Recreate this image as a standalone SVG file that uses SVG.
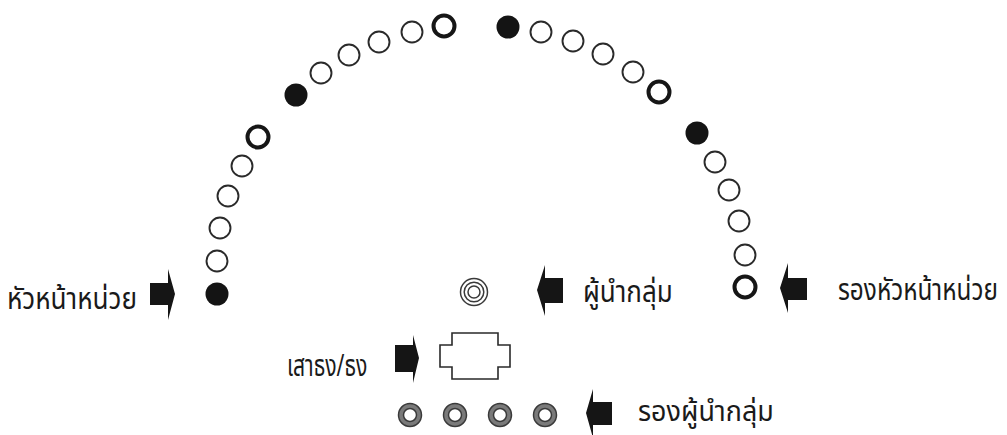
<svg xmlns="http://www.w3.org/2000/svg" width="1007" height="435" viewBox="0 0 1007 435">
<style>
.o{fill:none;stroke:#2a2a2a;stroke-width:1.9}
.t{fill:none;stroke:#161616;stroke-width:4}
.f{fill:#141414}
.r{fill:none;stroke:#3a3a3a;stroke-width:1.5}
.g{fill:none;stroke:#7a7a7a;stroke-width:4.5}
.arw{fill:#151515}
.lbl{font-family:"Noto Sans Thai","Noto Sans","DejaVu Sans",sans-serif;font-size:30px;fill:#1a1a1a}
.sm{font-size:28px}
.flag{fill:none;stroke:#2a2a2a;stroke-width:1.6}
</style>
<rect width="1007" height="435" fill="#fff"/>
<g id="arc">
<circle class="f" cx="217" cy="294" r="11.5"/>
<circle class="o" cx="217" cy="261" r="10.5"/>
<circle class="o" cx="220" cy="228" r="10.5"/>
<circle class="o" cx="228" cy="196" r="10.5"/>
<circle class="o" cx="242" cy="166" r="10.5"/>
<circle class="t" cx="258" cy="137" r="10.5"/>
<circle class="f" cx="296" cy="95" r="11.5"/>
<circle class="o" cx="321" cy="73" r="10.5"/>
<circle class="o" cx="349" cy="55" r="10.5"/>
<circle class="o" cx="379" cy="42" r="10.5"/>
<circle class="o" cx="412" cy="32" r="10.5"/>
<circle class="t" cx="444" cy="26" r="10.5"/>
<circle class="f" cx="508" cy="27" r="11.5"/>
<circle class="o" cx="541" cy="32" r="10.5"/>
<circle class="o" cx="573" cy="41" r="10.5"/>
<circle class="o" cx="603" cy="54" r="10.5"/>
<circle class="o" cx="633" cy="72" r="10.5"/>
<circle class="t" cx="659" cy="92" r="10.5"/>
<circle class="f" cx="697" cy="133" r="11.5"/>
<circle class="o" cx="715" cy="162" r="10.5"/>
<circle class="o" cx="729" cy="190" r="10.5"/>
<circle class="o" cx="739" cy="221" r="10.5"/>
<circle class="o" cx="745" cy="255" r="10.5"/>
<circle class="t" cx="745" cy="287" r="10.5"/>
</g>
<g id="leader">
<circle class="r" cx="474" cy="292" r="13.5"/>
<circle class="r" cx="474" cy="292" r="9.8"/>
<circle class="r" cx="474" cy="292" r="6"/>
</g>
<g id="flag">
<path class="flag" d="M452,333 H498 V345 H510 V367 H498 V379 H452 V367 H440 V345 H452 Z"/>
</g>
<g id="deputies">
<circle class="g" cx="410" cy="415" r="9"/><circle class="r" cx="410" cy="415" r="11.5"/><circle class="r" cx="410" cy="415" r="6.5"/>
<circle class="g" cx="455" cy="415" r="9"/><circle class="r" cx="455" cy="415" r="11.5"/><circle class="r" cx="455" cy="415" r="6.5"/>
<circle class="g" cx="500" cy="415" r="9"/><circle class="r" cx="500" cy="415" r="11.5"/><circle class="r" cx="500" cy="415" r="6.5"/>
<circle class="g" cx="545" cy="415" r="9"/><circle class="r" cx="545" cy="415" r="11.5"/><circle class="r" cx="545" cy="415" r="6.5"/>
</g>
<g id="connectors">
<polygon class="arw" points="150,283 168,283 168,269 175,294 168,320 168,305 150,305"/>
<polygon class="arw" points="563,278 545,278 545,265 537,290 545,316 545,303 563,303"/>
<polygon class="arw" points="807,278 788,278 788,263 780,288 788,313 788,300 807,300"/>
<polygon class="arw" points="395,345 413,345 413,335 419,358 413,383 413,372 395,372"/>
<polygon class="arw" points="612,402 593,402 593,389 586,413 593,438 593,425 612,425"/>
</g>
<g id="labels">
<text class="lbl" transform="translate(7,309) scale(0.73,1)" textLength="178" lengthAdjust="spacingAndGlyphs">หัวหน้าหน่วย</text>
<text class="lbl" transform="translate(583,302) scale(0.73,1)" textLength="123" lengthAdjust="spacingAndGlyphs">ผู้นำกลุ่ม</text>
<text class="lbl" transform="translate(838,300) scale(0.73,1)" textLength="219" lengthAdjust="spacingAndGlyphs">รองหัวหน้าหน่วย</text>
<text class="lbl" transform="translate(287,376) scale(0.73,1)" textLength="110" lengthAdjust="spacingAndGlyphs">เสาธง/ธง</text>
<text class="lbl sm" transform="translate(638,421) scale(0.78,1)" textLength="174" lengthAdjust="spacingAndGlyphs">รองผู้นำกลุ่ม</text>
</g>
</svg>
